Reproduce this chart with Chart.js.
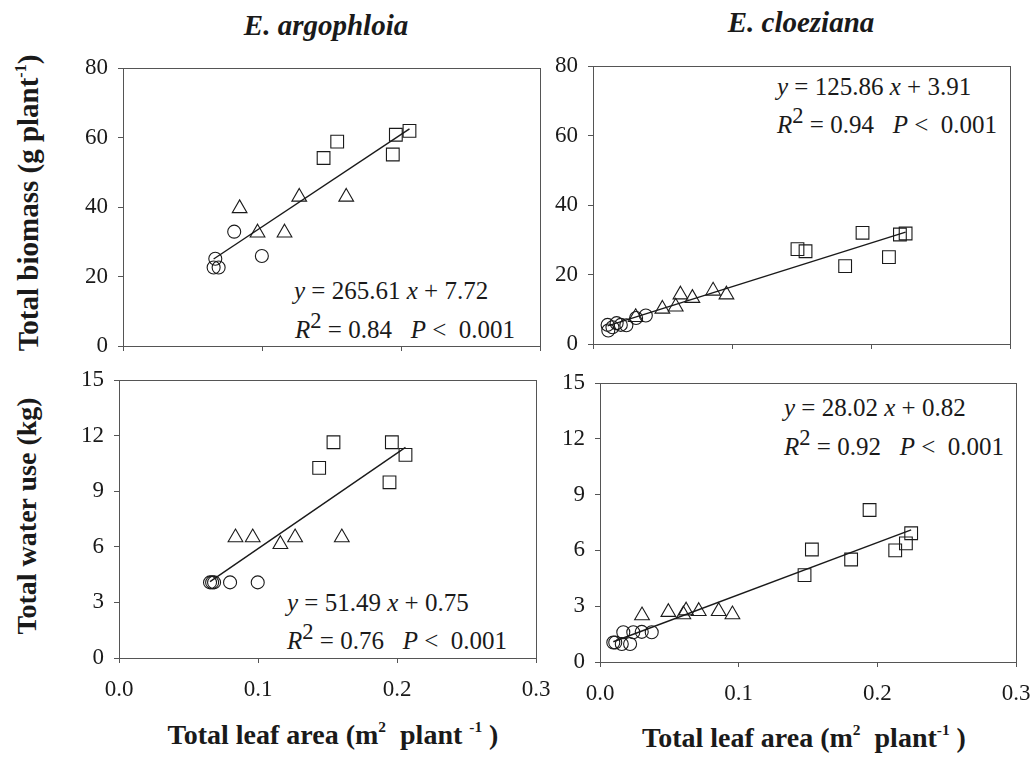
<!DOCTYPE html>
<html>
<head>
<meta charset="utf-8">
<script src="https://cdn.jsdelivr.net/npm/chart.js@4.4.1/dist/chart.umd.min.js"></script>
<style>
  body { margin: 0; background: #fff; }
  #page { position: relative; width: 1031px; height: 771px; overflow: hidden;
          font-family: "Liberation Serif", "Times New Roman", serif; color: #1a1a1a; }
  #page canvas { position: absolute; }
  .t { position: absolute; white-space: pre; line-height: 1; }
  .eq { font-size: 25px; }
  .sp { font-size: 0.9em; position: relative; top: -0.45em; }
  .title { font-size: 29px; font-weight: bold; font-style: italic; transform: translateX(-50%); }
  .ax { font-size: 28px; font-weight: bold; }
  .ax sup { font-size: 0.55em; vertical-align: 0; position: relative; top: -0.75em; }
  .ylab { transform: translate(-50%, -50%) rotate(-90deg); }
  .ylab.big { font-size: 29px; }
  .xlab { transform: translateX(-50%); }
</style>
</head>
<body>
<div id="page">
  <div class="t title" style="left:326px; top:11px;">E. argophloia</div>
  <div class="t title" style="left:801px; top:8px;">E. cloeziana</div>

  <div class="t ax ylab big" style="left:28px; top:203px;">Total biomass (g plant<sup>-1</sup>)</div>
  <div class="t ax ylab" style="left:27px; top:516px;">Total water use (kg)</div>

  <div class="t ax xlab" style="left:333px; top:721px;">Total leaf area (m<sup>2</sup>  plant <sup>-1</sup> )</div>
  <div class="t ax xlab" style="left:804px; top:724px;">Total leaf area (m<sup>2</sup>  plant<sup>-1</sup> )</div>

  <div class="t eq" style="left:294px; top:278px;"><i>y</i> = 265.61 <i>x</i> + 7.72</div>
  <div class="t eq" style="left:295px; top:317px;"><i>R</i><span class="sp">2</span> = 0.84   <i>P</i> &lt;  0.001</div>

  <div class="t eq" style="left:777px; top:74px;"><i>y</i> = 125.86 <i>x</i> + 3.91</div>
  <div class="t eq" style="left:777px; top:112px;"><i>R</i><span class="sp">2</span> = 0.94   <i>P</i> &lt;  0.001</div>

  <div class="t eq" style="left:287px; top:590px;"><i>y</i> = 51.49 <i>x</i> + 0.75</div>
  <div class="t eq" style="left:287px; top:628px;"><i>R</i><span class="sp">2</span> = 0.76   <i>P</i> &lt;  0.001</div>

  <div class="t eq" style="left:784px; top:395px;"><i>y</i> = 28.02 <i>x</i> + 0.82</div>
  <div class="t eq" style="left:784px; top:434px;"><i>R</i><span class="sp">2</span> = 0.92   <i>P</i> &lt;  0.001</div>
</div>

<script>
// tick labels
const xTicks = [0, 0.1, 0.2, 0.3];
const biomassTicks = [0, 20, 40, 60, 80];
const waterTicks = [0, 3, 6, 9, 12, 15];

// E. argophloia - total biomass (g plant-1) vs leaf area (m2 plant-1)
const argoBioCircX = [0.0664, 0.0652, 0.0688, 0.080, 0.0999];
const argoBioCircY = [25.1, 22.6, 22.6, 32.9, 25.9];
const argoBioTriX = [0.0839, 0.0968, 0.1162, 0.1268, 0.1606];
const argoBioTriY = [39.6, 32.6, 32.6, 42.9, 42.9];
const argoBioSqX = [0.1443, 0.1541, 0.1941, 0.1963, 0.2061];
const argoBioSqY = [54.1, 58.8, 55.1, 60.8, 61.9];
const argoBioFit = [265.61, 7.72];

// E. cloeziana - total biomass
const cloeBioCircX = [0.0105, 0.011, 0.014, 0.017, 0.020, 0.024, 0.031, 0.038];
const cloeBioCircY = [5.5, 3.9, 4.8, 6.0, 5.5, 5.4, 7.5, 8.2];
const cloeBioTriX = [0.0307, 0.0499, 0.0595, 0.0629, 0.0715, 0.0864, 0.096];
const cloeBioTriY = [7.7, 10.1, 10.7, 14.2, 13.2, 15.3, 14.2];
const cloeBioSqX = [0.1471, 0.1529, 0.1814, 0.1939, 0.2129, 0.2208, 0.2249];
const cloeBioSqY = [27.3, 26.7, 22.4, 32.0, 25.0, 31.5, 31.8];
const cloeBioFit = [125.86, 3.91];

// E. argophloia - total water use (kg)
const argoWatCircX = [0.0655, 0.0670, 0.0684, 0.0799, 0.0998];
const argoWatCircY = [4.08, 4.08, 4.08, 4.08, 4.08];
const argoWatTriX = [0.0838, 0.0962, 0.1161, 0.1267, 0.1603];
const argoWatTriY = [6.5, 6.5, 6.14, 6.5, 6.5];
const argoWatSqX = [0.144, 0.1543, 0.1946, 0.1963, 0.2061];
const argoWatSqY = [10.26, 11.64, 9.48, 11.64, 10.96];
const argoWatFit = [51.49, 0.75];

// E. cloeziana - total water use
const cloeWatCircX = [0.0096, 0.011, 0.0157, 0.0217, 0.0168, 0.024, 0.0301, 0.0373];
const cloeWatCircY = [1.05, 1.05, 0.97, 0.97, 1.6, 1.6, 1.62, 1.6];
const cloeWatTriX = [0.0303, 0.0493, 0.0601, 0.0621, 0.0712, 0.0856, 0.0955];
const cloeWatTriY = [2.5, 2.68, 2.55, 2.76, 2.73, 2.73, 2.55];
const cloeWatSqX = [0.1475, 0.1528, 0.1811, 0.1944, 0.2129, 0.2206, 0.2244];
const cloeWatSqY = [4.67, 6.05, 5.51, 8.17, 6.0, 6.38, 6.92];
const cloeWatFit = [28.02, 0.82];

const pts = (xs, ys) => xs.map((x, i) => ({ x: x, y: ys[i] }));

const INK = '#1a1a1a';
const FRAME = '#555';
const tickFont = { family: "'Liberation Serif', 'Times New Roman', serif", size: 23 };

// draws the closed box round the plot area
const framePlugin = {
  id: 'frame',
  beforeDatasetsDraw(chart) {
    const a = chart.chartArea, ctx = chart.ctx;
    ctx.save();
    ctx.strokeStyle = FRAME;
    ctx.lineWidth = 1;
    ctx.strokeRect(Math.round(a.left) + 0.5, Math.round(a.top) + 0.5,
                   Math.round(a.right - a.left), Math.round(a.bottom - a.top));
    ctx.restore();
  }
};

function makePanel(p) {
  // the y labels ask for about 24px above and below the plot, so leave room for them
  const padL = 70, padT = 30, padR = 40, xh = p.showX ? 60 : 30;
  const cv = document.createElement('canvas');
  const w = p.R - p.L + padL + padR, h = p.B - p.T + padT + xh;
  cv.width = w; cv.height = h;
  cv.style.left = (p.L - padL) + 'px';
  cv.style.top = (p.T - padT) + 'px';
  document.getElementById('page').appendChild(cv);

  const allX = p.circX.concat(p.triX, p.sqX);
  const x0 = Math.min(...allX), x1 = Math.max(...allX);
  const fitLine = [x0, x1].map(x => ({ x: x, y: p.fit[0] * x + p.fit[1] }));

  const marker = (data, style, r) => ({
    data: data, pointStyle: style, pointRadius: r, pointHoverRadius: r,
    pointBorderColor: INK, pointBackgroundColor: 'rgba(0,0,0,0)', pointBorderWidth: 1.1,
    showLine: false
  });

  new Chart(cv, {
    type: 'scatter',
    data: {
      datasets: [
        marker(pts(p.circX, p.circY), 'circle', 6.5),
        marker(pts(p.triX, p.triY), 'triangle', 8.5),
        marker(pts(p.sqX, p.sqY), 'rect', 9),
        { data: fitLine, showLine: true, pointRadius: 0, borderColor: INK, borderWidth: 1.4 }
      ]
    },
    options: {
      responsive: false,
      animation: false,
      layout: { autoPadding: false, padding: { top: padT, right: padR, left: 0, bottom: 0 } },
      plugins: { legend: { display: false }, tooltip: { enabled: false } },
      scales: {
        x: {
          type: 'linear', min: 0, max: 0.3,
          afterBuildTicks: ax => { ax.ticks = xTicks.map(v => ({ value: v })); },
          afterFit: ax => { ax.height = xh; },
          ticks: { display: p.showX, font: tickFont, color: INK, padding: 13,
                   maxRotation: 0, callback: v => v.toFixed(1) },
          grid: { drawOnChartArea: false, tickLength: 5, color: FRAME },
          border: { display: false }
        },
        y: {
          min: 0, max: p.yTicks[p.yTicks.length - 1],
          afterBuildTicks: ax => { ax.ticks = p.yTicks.map(v => ({ value: v })); },
          afterFit: ax => { ax.width = padL; },
          ticks: { font: tickFont, color: INK, padding: 10 },
          grid: { drawOnChartArea: false, tickLength: 5, color: FRAME },
          border: { display: false }
        }
      }
    },
    plugins: [framePlugin]
  });
}

makePanel({ L: 123, R: 540, T: 68, B: 346, showX: false, yTicks: biomassTicks,
  circX: argoBioCircX, circY: argoBioCircY, triX: argoBioTriX, triY: argoBioTriY,
  sqX: argoBioSqX, sqY: argoBioSqY, fit: argoBioFit });
makePanel({ L: 593, R: 1010, T: 66, B: 344, showX: false, yTicks: biomassTicks,
  circX: cloeBioCircX, circY: cloeBioCircY, triX: cloeBioTriX, triY: cloeBioTriY,
  sqX: cloeBioSqX, sqY: cloeBioSqY, fit: cloeBioFit });
makePanel({ L: 119, R: 536, T: 380, B: 658, showX: true, yTicks: waterTicks,
  circX: argoWatCircX, circY: argoWatCircY, triX: argoWatTriX, triY: argoWatTriY,
  sqX: argoWatSqX, sqY: argoWatSqY, fit: argoWatFit });
makePanel({ L: 600, R: 1016, T: 383, B: 662, showX: true, yTicks: waterTicks,
  circX: cloeWatCircX, circY: cloeWatCircY, triX: cloeWatTriX, triY: cloeWatTriY,
  sqX: cloeWatSqX, sqY: cloeWatSqY, fit: cloeWatFit });
</script>
</body>
</html>
